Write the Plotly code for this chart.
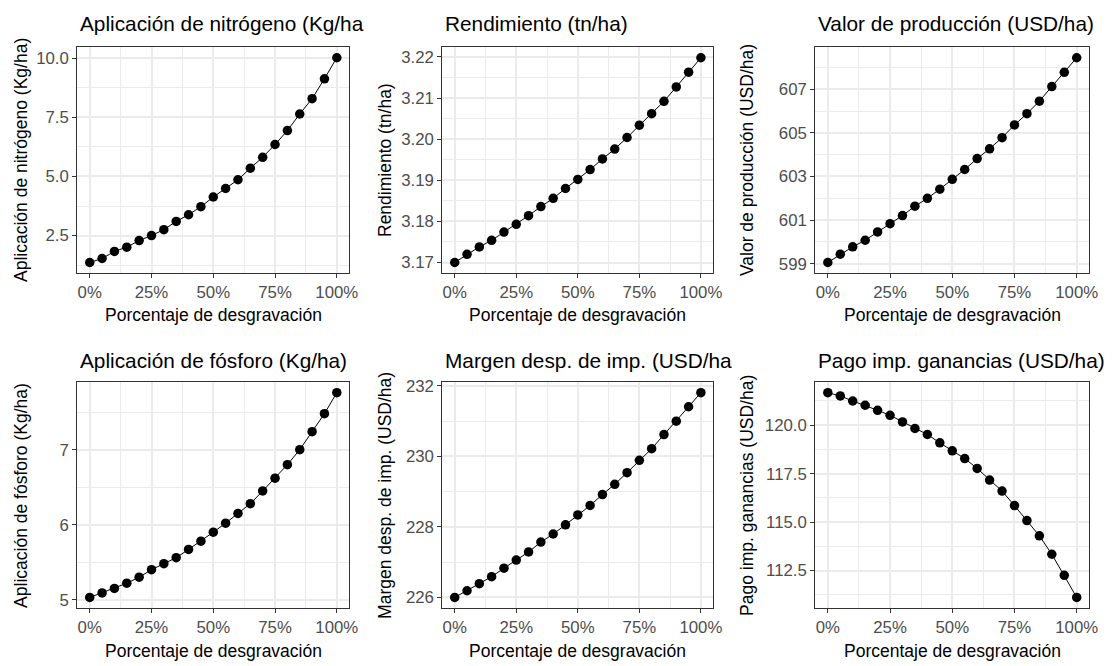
import plotly.graph_objects as go

pct = [i / 20 for i in range(21)]
x_tick_vals = [0, 0.25, 0.5, 0.75, 1.0]
x_tick_text = ["0%", "25%", "50%", "75%", "100%"]

nitrogeno = [1.36, 1.53, 1.83, 2.01, 2.29, 2.50, 2.75, 3.10, 3.38, 3.72, 4.13,
             4.49, 4.86, 5.35, 5.81, 6.35, 6.94, 7.64, 8.29, 9.13, 10.02]
rendimiento = [3.1700, 3.1720, 3.1738, 3.1754, 3.1774, 3.1793, 3.1814, 3.1836,
               3.1856, 3.1880, 3.1902, 3.1926, 3.1952, 3.1976, 3.2004, 3.2034,
               3.2062, 3.2092, 3.2127, 3.2163, 3.2198]
valor_prod = [599.06, 599.44, 599.78, 600.08, 600.46, 600.84, 601.21, 601.64,
              602.00, 602.42, 602.87, 603.32, 603.82, 604.27, 604.78, 605.36,
              605.88, 606.45, 607.12, 607.77, 608.44]
fosforo = [5.03, 5.09, 5.15, 5.22, 5.30, 5.40, 5.48, 5.56, 5.67, 5.78, 5.90,
           6.02, 6.15, 6.28, 6.45, 6.62, 6.80, 7.00, 7.24, 7.48, 7.76]
margen = [226.00, 226.19, 226.39, 226.59, 226.83, 227.06, 227.29, 227.57,
          227.80, 228.06, 228.34, 228.61, 228.92, 229.21, 229.54, 229.89,
          230.22, 230.62, 231.00, 231.41, 231.81]
pago = [121.68, 121.51, 121.25, 121.03, 120.77, 120.51, 120.17, 119.83,
        119.52, 119.09, 118.68, 118.28, 117.77, 117.17, 116.60, 115.85,
        115.08, 114.29, 113.34, 112.25, 111.11]

panel_titles = ["Aplicación de nitrógeno (Kg/ha", "Rendimiento (tn/ha)",
                "Valor de producción (USD/ha)", "Aplicación de fósforo (Kg/ha)",
                "Margen desp. de imp. (USD/ha", "Pago imp. ganancias (USD/ha)"]
y_titles = ["Aplicación de nitrógeno (Kg/ha)", "Rendimiento (tn/ha)",
            "Valor de producción (USD/ha)", "Aplicación de fósforo (Kg/ha)",
            "Margen desp. de imp. (USD/ha)", "Pago imp. ganancias (USD/ha)"]
x_title = "Porcentaje de desgravación"

y_major = [[2.5, 5.0, 7.5, 10.0],
           [3.17, 3.18, 3.19, 3.20, 3.21, 3.22],
           [599, 601, 603, 605, 607],
           [5, 6, 7],
           [226, 228, 230, 232],
           [112.5, 115.0, 117.5, 120.0]]
y_minor = [[1.25, 3.75, 6.25, 8.75],
           [3.175, 3.185, 3.195, 3.205, 3.215],
           [600, 602, 604, 606, 608],
           [5.5, 6.5, 7.5],
           [227, 229, 231],
           [111.25, 113.75, 116.25, 118.75, 121.25]]
y_fmt = ["%.1f", "%.2f", "%.0f", "%.0f", "%.0f", "%.1f"]

series = [nitrogeno, rendimiento, valor_prod, fosforo, margen, pago]

W, H = 1117, 666
col_px = [(78, 352), (446, 719), (822, 1098)]
row_px = [(42, 270), (381, 609)]
ytitle_x = [21, 388, 753]
title_y = [18, 359]
xtitle_y = [313, 653]

FONT = "Arial, Liberation Sans, sans-serif"
GRID = "#EBEBEB"
BORDER = "#333333"
TICKSIZE = 16.8

fig = go.Figure()
layout = dict(width=W, height=H, margin=dict(l=0, r=0, t=0, b=0),
              paper_bgcolor="white", plot_bgcolor="white", showlegend=False,
              font=dict(family=FONT))
annotations = []

for i, vals in enumerate(series):
    r, c = divmod(i, 3)
    n = i + 1
    xa = "xaxis" if n == 1 else f"xaxis{n}"
    ya = "yaxis" if n == 1 else f"yaxis{n}"
    xref = "x" if n == 1 else f"x{n}"
    yref = "y" if n == 1 else f"y{n}"
    fig.add_trace(go.Scatter(x=pct, y=vals, mode="lines+markers", xaxis=xref, yaxis=yref,
                             line=dict(color="black", width=1),
                             marker=dict(color="black", size=9.5)))
    x0, x1 = col_px[c]
    y0, y1 = row_px[r]
    lo, hi = min(vals), max(vals)
    pad = 0.05 * (hi - lo)
    layout[xa] = dict(showline=True, mirror=True, linecolor=BORDER, linewidth=1.3,
                      ticks="outside", tickcolor=BORDER, ticklen=4, tickwidth=1.3,
                      showgrid=True, gridcolor=GRID, gridwidth=1.5, zeroline=False,
                      tickfont=dict(family=FONT, size=TICKSIZE, color="#4D4D4D"),
                      domain=[x0 / W, x1 / W], anchor=yref,
                      range=[-0.05, 1.05], tickvals=x_tick_vals, ticktext=x_tick_text,
                      minor=dict(tickvals=[0.125, 0.375, 0.625, 0.875], showgrid=True,
                                 gridcolor=GRID, gridwidth=0.8, ticklen=0))
    layout[ya] = dict(showline=True, mirror=True, linecolor=BORDER, linewidth=1.3,
                      ticks="outside", tickcolor=BORDER, ticklen=4, tickwidth=1.3,
                      showgrid=True, gridcolor=GRID, gridwidth=1.5, zeroline=False,
                      tickfont=dict(family=FONT, size=TICKSIZE, color="#4D4D4D"),
                      domain=[1 - y1 / H, 1 - y0 / H], anchor=xref,
                      range=[lo - pad, hi + pad], tickvals=y_major[i],
                      ticktext=[y_fmt[i] % v for v in y_major[i]],
                      minor=dict(tickvals=y_minor[i], showgrid=True,
                                 gridcolor=GRID, gridwidth=0.8, ticklen=0))
    annotations.append(dict(text=panel_titles[i], xref="paper", yref="paper",
                            x=(x0 + 1) / W, y=1 - title_y[r] / H, xanchor="left",
                            yanchor="middle", showarrow=False,
                            font=dict(family=FONT, size=20.8, color="black")))
    annotations.append(dict(text=x_title, xref="paper", yref="paper",
                            x=(x0 + x1) / 2 / W, y=1 - xtitle_y[r] / H, xanchor="center",
                            yanchor="middle", showarrow=False,
                            font=dict(family=FONT, size=17.5, color="black")))
    annotations.append(dict(text=y_titles[i], xref="paper", yref="paper",
                            x=ytitle_x[c] / W, y=1 - (y0 + y1) / 2 / H, xanchor="center",
                            yanchor="middle", textangle=-90, showarrow=False,
                            font=dict(family=FONT, size=17.5, color="black")))

layout["annotations"] = annotations
fig.update_layout(**layout)
fig.write_html("out.html", config={"displayModeBar": False},
               post_script="document.body.style.margin='0px';document.body.style.padding='0px';")
